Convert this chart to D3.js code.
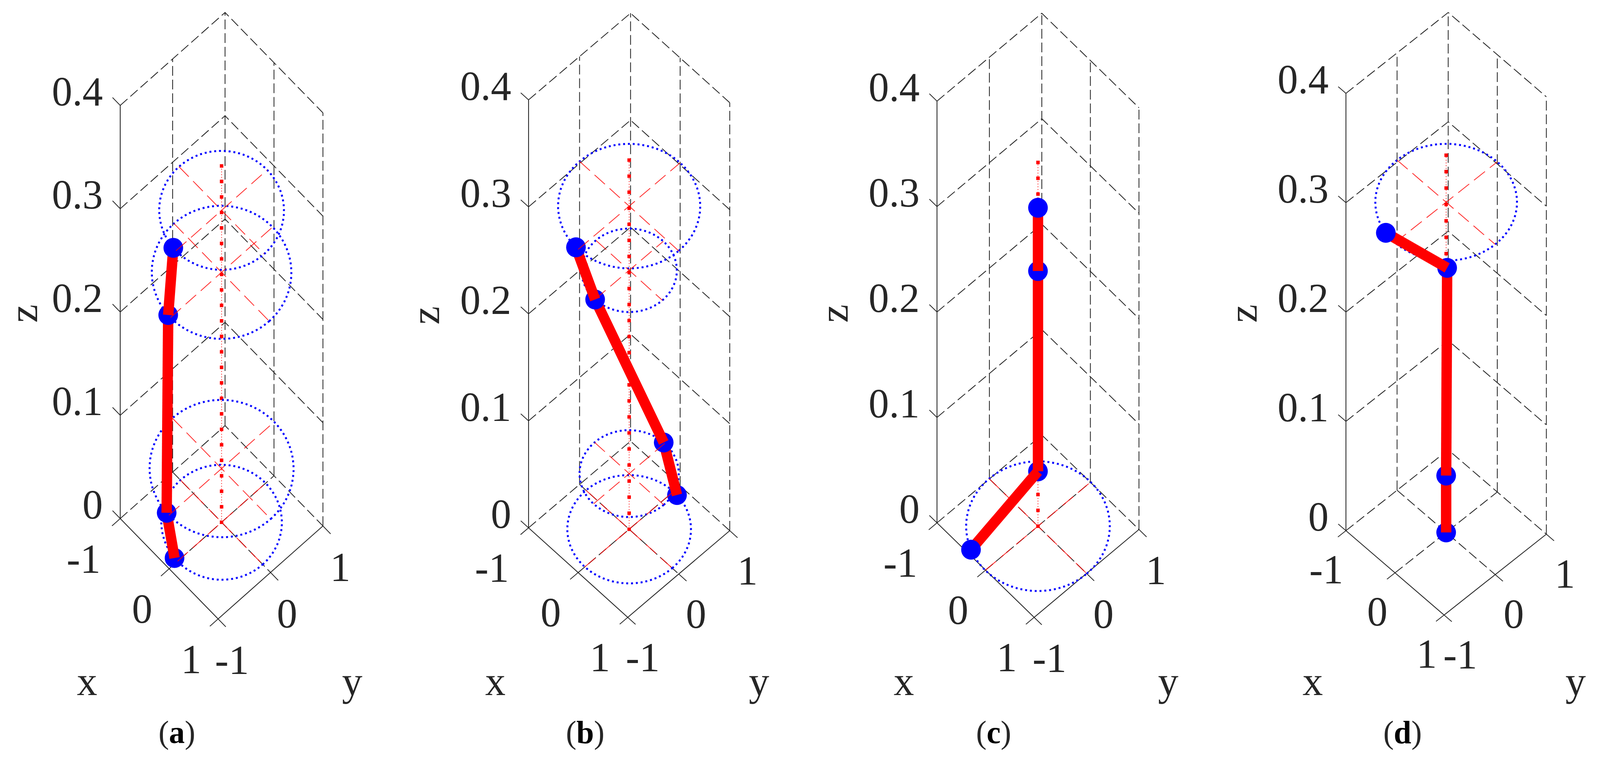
<!DOCTYPE html>
<html>
<head>
<meta charset="utf-8">
<style>
  html, body { margin: 0; padding: 0; background: #fff; overflow: hidden; }
  svg { display: block; }
  text { font-family: "Liberation Serif", serif; fill: #262626; }
</style>
<script src="https://cdn.jsdelivr.net/npm/d3@7"></script>
</head>
<body>
<div id="viz"></div>
<script>
var panelNames = ["a", "b", "c", "d"];

// tick values and labels, shared by all four panels
var xTicks = [-1, 0, 1];
var yTicks = [-1, 0, 1];
var zTicks = [0, 0.1, 0.2, 0.3, 0.4];
var xyTickLabels = ["-1", "0", "1"];
var zTickLabels = ["0", "0.1", "0.2", "0.3", "0.4"];

// centre line markers
var spineZ = [0, 0.015, 0.03, 0.045, 0.06, 0.075, 0.09, 0.105, 0.12, 0.135, 0.15, 0.165,
  0.18, 0.195, 0.21, 0.225, 0.24, 0.255, 0.27, 0.285, 0.3, 0.315, 0.33, 0.345];

// joint positions, bottom to top
var nodeZ = [0, 0.052, 0.242, 0.302];
var nodeXa = [-0.064, -0.048, -0.05, -0.057];
var nodeYa = [-0.838, -1.003, -0.972, -0.868];
var nodeXb = [0.074, -0.02, 0.003, -0.046];
var nodeYb = [0.866, 0.697, -0.67, -0.998];
var nodeXc = [-0.371, 0, 0, 0];
var nodeYc = [-0.934, 0, 0, 0];
var nodeXd = [0, 0, 0.01, -0.211];
var nodeYd = [0, 0, 0.01, -0.977];

var nodesX = { a: nodeXa, b: nodeXb, c: nodeXc, d: nodeXd };
var nodesY = { a: nodeYa, b: nodeYb, c: nodeYc, d: nodeYd };

// page placement of each panel: floor corners in px, height of one z unit, label nudges
var layout = {
  a: { L: [312, 1328], B: [566, 1585], R: [838, 1347], zLen: 2645, xDx: [-95, -70, -70], xDy: 139, yDx: [36, 43, 45], yDy: 141 },
  b: { L: [1371.6, 1351.7], B: [1629, 1581], R: [1893.7, 1359], zLen: 2740, xDx: [-95, -71, -72], xDy: 138, yDx: [39, 45, 46], yDy: 138 },
  c: { L: [2431.5, 1339], B: [2683.6, 1581], R: [2955.6, 1356], zLen: 2700, xDx: [-95, -71, -71], xDy: 138, yDx: [40, 44, 44], yDy: 140 },
  d: { L: [3492.7, 1359], B: [3747.4, 1575], R: [4012.8, 1368], zLen: 2800, xDx: [-51, -46, -45], xDy: 135, yDx: [42, 48, 48], yDy: 137 }
};

var width = 4152,
  height = 1954,
  ink = "#262626",
  tickSize = 0.157;

// the window can come out narrower than the design, so fit the whole drawing into it
var svg = d3.select("#viz").append("svg")
  .attr("width", window.innerWidth)
  .attr("height", window.innerHeight)
  .attr("viewBox", "0 0 " + width + " " + height)
  .attr("preserveAspectRatio", "none");

svg.append("rect").attr("width", width).attr("height", height).attr("fill", "#fff");

panelNames.forEach(function(name) {
  drawPanel(svg.append("g").attr("class", "panel-" + name), name);
});

function drawPanel(g, name) {
  var box = layout[name];

  // the view is an affine projection, so each data axis gets a scale per screen direction
  var xToPx = d3.scaleLinear().domain([-1, 1]).range([box.L[0], box.B[0]]);
  var xToPy = d3.scaleLinear().domain([-1, 1]).range([box.L[1], box.B[1]]);
  var yToPx = d3.scaleLinear().domain([-1, 1]).range([0, box.R[0] - box.B[0]]);
  var yToPy = d3.scaleLinear().domain([-1, 1]).range([0, box.R[1] - box.B[1]]);
  var zToPy = d3.scaleLinear().domain([0, 1]).range([0, -box.zLen]);

  function project(p) {
    return [xToPx(p[0]) + yToPx(p[1]), xToPy(p[0]) + yToPy(p[1]) + zToPy(p[2])];
  }
  var line = d3.line().x(function(p) { return project(p)[0]; }).y(function(p) { return project(p)[1]; });

  function gridPath(points) {
    g.append("path").attr("d", line(points)).attr("fill", "none")
      .attr("stroke", ink).attr("stroke-width", 2.1).attr("stroke-dasharray", "25 10");
  }
  function axisPath(points, w) {
    g.append("path").attr("d", line(points)).attr("fill", "none")
      .attr("stroke", ink).attr("stroke-width", w);
  }

  // dashed walls and floor
  zTicks.forEach(function(z) {
    gridPath([[-1, -1, z], [-1, 1, z], [1, 1, z]]);
  });
  gridPath([[-1, 0, 0], [-1, 0, 0.4]]);
  gridPath([[-1, 1, 0], [-1, 1, 0.4]]);
  gridPath([[0, 1, 0], [0, 1, 0.4]]);
  gridPath([[1, 1, 0], [1, 1, 0.4]]);
  gridPath([[0, -1, 0], [0, 1, 0]]);
  gridPath([[-1, 0, 0], [1, 0, 0]]);

  // solid axes and ticks
  axisPath([[-1, -1, 0], [-1, -1, 0.4]], 2.2);
  axisPath([[-1, -1, 0], [1, -1, 0], [1, 1, 0]], 2.2);
  zTicks.forEach(function(z) {
    axisPath([[-1, -1, z], [-1 - tickSize, -1, z]], 2);
  });
  xTicks.forEach(function(x) {
    axisPath([[x, -1, 0], [x, -1 - tickSize, 0]], 2);
  });
  yTicks.forEach(function(y) {
    axisPath([[1, y, 0], [1 + tickSize, y, 0]], 2);
  });

  // centre line
  g.append("path").attr("d", line([[0, 0, spineZ[0]], [0, 0, spineZ[spineZ.length - 1]]]))
    .attr("stroke", "#ff0000").attr("stroke-width", 2).attr("stroke-dasharray", "2.5 4.5").attr("opacity", 0.8);
  g.selectAll("rect.spine").data(spineZ).enter().append("rect")
    .attr("class", "spine")
    .attr("x", function(z) { return project([0, 0, z])[0] - 4.5; })
    .attr("y", function(z) { return project([0, 0, z])[1] - 4.5; })
    .attr("width", 9).attr("height", 9)
    .attr("fill", "#ff0000");

  var nx = nodesX[name], ny = nodesY[name];
  var nodes = nodeZ.map(function(z, i) {
    return { x: nx[i], y: ny[i], z: z, r: Math.hypot(nx[i], ny[i]) };
  });

  // dotted disc outlines, a disc only shows when its joint is off centre
  var angles = d3.range(0, 360, 3);
  var discLine = d3.line().x(line.x()).y(line.y()).curve(d3.curveLinearClosed);
  nodes.forEach(function(n) {
    if (n.r < 0.5) return;
    g.append("path")
      .attr("d", discLine(angles.map(function(a) {
        var t = a * Math.PI / 180;
        return [n.r * Math.cos(t), n.r * Math.sin(t), n.z];
      })))
      .attr("fill", "none").attr("stroke", "#0000ff").attr("stroke-width", 5).attr("stroke-dasharray", "5 7.5");
  });

  // thick link and joints, upper end of a link goes over the joint below it
  function dot(n) {
    var p = project([n.x, n.y, n.z]);
    g.append("circle").attr("cx", p[0]).attr("cy", p[1]).attr("r", 25.5).attr("fill", "#0000ff");
  }
  function link(a, b) {
    g.append("path").attr("d", line([[a.x, a.y, a.z], [b.x, b.y, b.z]]))
      .attr("fill", "none").attr("stroke", "#ff0000").attr("stroke-width", 27);
  }
  if (name === "c") {
    dot(nodes[1]); link(nodes[1], nodes[0]); dot(nodes[0]);
  } else {
    dot(nodes[0]); link(nodes[0], nodes[1]); dot(nodes[1]);
  }
  link(nodes[1], nodes[2]); dot(nodes[2]);
  link(nodes[2], nodes[3]); dot(nodes[3]);

  // thin red cross of each disc
  nodes.forEach(function(n) {
    if (n.r < 0.5) return;
    [[[-n.r, 0, n.z], [n.r, 0, n.z]], [[0, -n.r, n.z], [0, n.r, n.z]]].forEach(function(seg) {
      g.append("path").attr("d", line(seg)).attr("fill", "none")
        .attr("stroke", "#ff0000").attr("stroke-width", 2).attr("stroke-dasharray", "36 16").attr("opacity", 0.85);
    });
  });

  // labels
  function label(x, y, str, size, anchor) {
    return g.append("text").attr("x", x).attr("y", y)
      .attr("text-anchor", anchor || "middle").attr("font-size", size).text(str);
  }
  zTicks.forEach(function(z, i) {
    var p = project([-1, -1, z]);
    label(p[0] - 45, p[1], zTickLabels[i], 106, "end");
  });
  xTicks.forEach(function(x, i) {
    var p = project([x, -1, 0]);
    label(p[0] + box.xDx[i], p[1] + box.xDy, xyTickLabels[i], 106);
  });
  yTicks.forEach(function(y, i) {
    var p = project([1, y, 0]);
    label(p[0] + box.yDx[i], p[1] + box.yDy, xyTickLabels[i], 106);
  });

  label(box.L[0] - 86, 1780, "x", 106);
  label(box.R[0] + 76, 1780, "y", 106);
  var zMid = project([-1, -1, 0.2]);
  // rotated text box reaches far past the glyph, keep it on the page
  var zx = Math.max(zMid[0] - 232, 96), zy = zMid[1] + 4;
  label(zx, zy, "z", 106).attr("transform", "rotate(-90 " + zx + " " + zy + ")");

  var cap = label(box.L[0] + 147, 1903, null, 82);
  cap.append("tspan").text("(");
  cap.append("tspan").attr("font-weight", "bold").attr("fill", "#000").text(name);
  cap.append("tspan").text(")");
}
</script>
</body>
</html>
